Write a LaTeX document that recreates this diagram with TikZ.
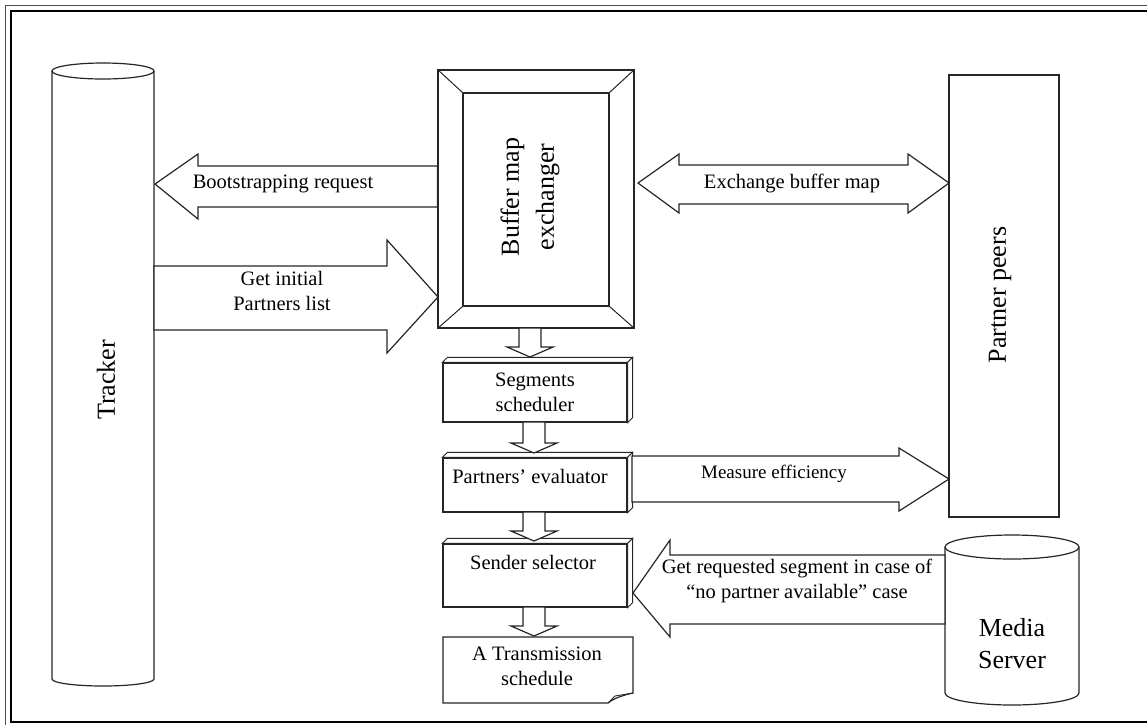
\documentclass[tikz,border=0pt]{standalone}
\usepackage{fontspec}
\setmainfont{Liberation Serif}
\begin{document}
\begin{tikzpicture}[x=1pt,y=-1pt,line join=miter,
  lbl/.style={font=\fontsize{20.5}{25}\selectfont,align=center,inner sep=0pt},
  small/.style={font=\fontsize{19}{24}\selectfont,align=center,inner sep=0pt},
  big/.style={font=\fontsize{26}{34}\selectfont,align=center,inner sep=0pt},
  blk/.style={draw=black!85,fill=white,line width=1.2pt},
  box/.style={draw=black!85,fill=white,line width=1.2pt,inner sep=0pt},
  face/.style={draw=black!85,fill=white,line width=0.9pt}]
\useasboundingbox (0,0) rectangle (1147,724);
% frame
\draw[black!70,line width=0.9pt] (5.5,5.5) rectangle (1160,740);
\draw[black,line width=2.2pt] (11,11) rectangle (1152,722);

% Tracker cylinder
\draw[blk] (52,71) -- (52,679) arc[start angle=180,end angle=0,x radius=51,y radius=7] -- (154,71);
\draw[blk] (103,71) ellipse[x radius=51,y radius=8];
\node[big,rotate=90] (tracker) at (106,380) {Tracker};

% Buffer map exchanger
\node[box,minimum width=196pt,minimum height=258pt] (buf) at (536,199) {};
\node[draw=black!85,line width=1.2pt,minimum width=146pt,minimum height=213pt,inner sep=0pt] (bufin) at (536,199.5) {};
\draw[black!85,line width=1pt] (buf.north west) -- (bufin.north west)
  (buf.north east) -- (bufin.north east)
  (buf.south west) -- (bufin.south west)
  (buf.south east) -- (bufin.south east);
\node[big,rotate=90,font=\fontsize{26}{35}\selectfont] (buflbl) at (530,197) {Buffer map\\exchanger};

% Partner peers
\node[box,minimum width=110pt,minimum height=442pt] (peers) at (1004,296) {};
\node[big,rotate=90] (peerslbl) at (1000,295) {Partner peers};

% Media server cylinder
\draw[blk] (945,547) -- (945,693) arc[start angle=180,end angle=0,x radius=67,y radius=12] -- (1079,547);
\draw[blk] (1012,547) ellipse[x radius=67,y radius=12];
\node[big,font=\fontsize{26}{32}\selectfont] (media) at (1012,644) {Media\\Server};

% Bootstrapping request arrow (left)
\draw[blk] (155,184) -- (198,154) -- (198,166) -- (buf.west |- 0,166) -- (buf.west |- 0,207) -- (198,207) -- (198,219) -- cycle;
\node[lbl] (boot) at (283,184) {Bootstrapping request};

% Get initial partners list (right)
\draw[blk] (154,266) -- (387,266) -- (387,240) -- (438,297) -- (387,353) -- (387,330) -- (154,330) -- cycle;
\node[lbl] (getinit) at (282,291) {Get initial\\Partners list};

% Exchange buffer map (double)
\draw[blk] (638,183) -- (679,154) -- (679,165) -- (908,165) -- (908,154) -- (949,183) -- (908,213) -- (908,204) -- (679,204) -- (679,213) -- cycle;
\node[lbl] (exch) at (792,183) {Exchange buffer map};

% 3D process boxes
\node[box,minimum width=184pt,minimum height=59pt] (seg) at (535,392.5) {};
\node[box,minimum width=184pt,minimum height=54pt] (eval) at (535,485) {};
\node[box,minimum width=184pt,minimum height=63pt] (send) at (535,575.5) {};
\foreach \b in {seg,eval,send}{
  \draw[face] (\b.north west) -- ++(5,-5) -- ([shift={(5,-5)}]\b.north east) -- (\b.north east) -- cycle;
  \draw[face] (\b.north east) -- ++(5,-5) -- ([shift={(5,-5)}]\b.south east) -- (\b.south east) -- cycle;
}
\node[lbl] (seglbl) at (535,392) {Segments\\scheduler};
\node[lbl] (evallbl) at (530,476) {Partners’ evaluator};
\node[lbl] (sendlbl) at (533,562) {Sender selector};

% Transmission schedule (document)
\draw[blk] (443,637) -- (633,637) -- (633,693) .. controls (624,695) and (614,698) .. (608,703) -- (443,703) -- cycle;
\draw[black!85,line width=0.9pt] (608,703) -- (615,696) -- (633,693);
\node[lbl] (trans) at (537,666) {A Transmission\\schedule};

% Measure efficiency (right)
\draw[blk] (632,456) -- (899,456) -- (899,448) -- (949,479) -- (899,511) -- (899,502) -- (632,502) -- cycle;
\node[small] (meas) at (774,474) {Measure efficiency};

% Get requested segment (left)
\draw[blk] (633,593) -- (670,540) -- (670,555) -- (945,555) -- (945,624) -- (670,624) -- (670,637) -- cycle;
\node[lbl] (getreq) at (797,581) {Get requested segment in case of\\“no partner available” case};

% small down arrows
\newcommand\downarr[3]{%
  \draw[blk] (#1-11,#2) -- (#1+11,#2) -- (#1+11,#3-10) -- (#1+23,#3-10) -- (#1,#3) -- (#1-23,#3-10) -- (#1-11,#3-10) -- cycle;}
\downarr{530}{328}{357}
\downarr{534}{422}{453}
\downarr{534}{512}{541}
\downarr{534}{607}{636}
\end{tikzpicture}
\end{document}
